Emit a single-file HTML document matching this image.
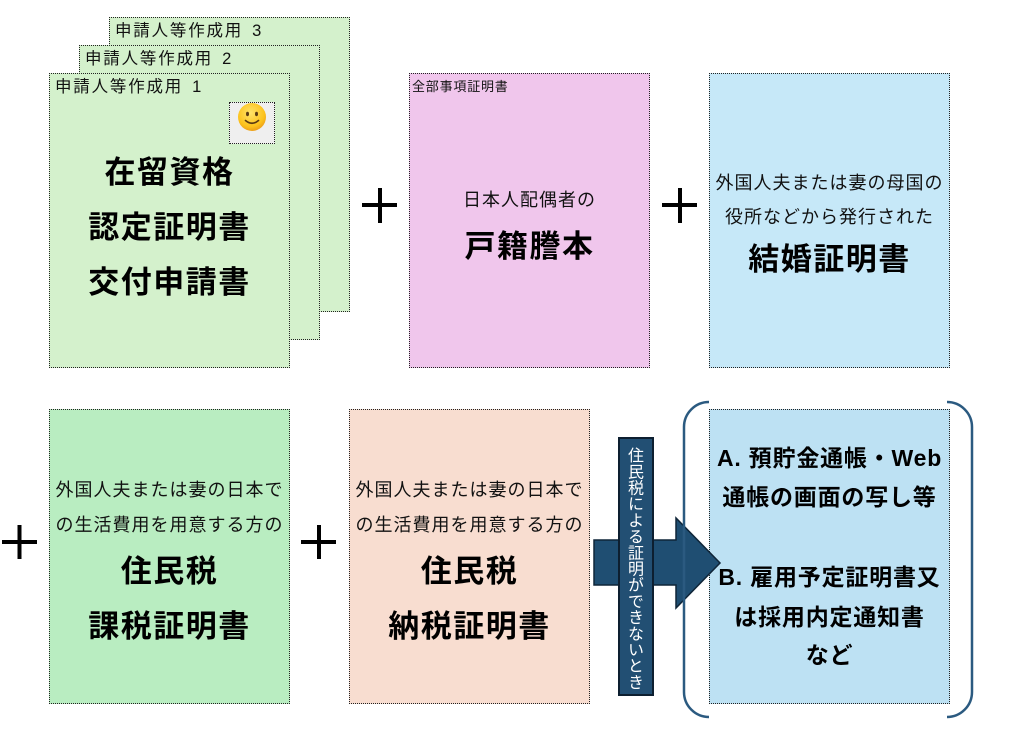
<!DOCTYPE html>
<html><head><meta charset="utf-8">
<style>
html,body{margin:0;padding:0;background:#fff;}
body{width:1024px;height:735px;position:relative;overflow:hidden;font-family:"Liberation Sans","Noto Sans CJK JP",sans-serif;color:#000;}
.box{position:absolute;box-sizing:border-box;border:1px dotted #222;}
.t{position:absolute;text-align:center;white-space:nowrap;}
.lbl{position:absolute;white-space:nowrap;font-size:16.5px;letter-spacing:1.8px;line-height:20px;color:#111;}
.lbl span{margin-left:9px;}
.big{font-size:31px;font-weight:bold;letter-spacing:1.5px;line-height:40px;}
.mid{font-size:18px;letter-spacing:1px;line-height:26px;color:#111;}
.rb{font-size:23px;font-weight:bold;letter-spacing:0.8px;line-height:36px;}
</style></head><body>

<!-- stacked application forms -->
<div class="box" style="left:109px;top:17px;width:241px;height:295px;background:#d4f1cc;"></div>
<div class="lbl" style="left:115px;top:21px;">申請人等作成用<span>3</span></div>
<div class="box" style="left:79px;top:45px;width:241px;height:295px;background:#d4f1cc;"></div>
<div class="lbl" style="left:85px;top:49px;">申請人等作成用<span>2</span></div>
<div class="box" style="left:49px;top:73px;width:241px;height:295px;background:#d4f1cc;"></div>
<div class="lbl" style="left:55px;top:77px;">申請人等作成用<span>1</span></div>
<div class="box" style="left:229px;top:102px;width:46px;height:42px;background:#efefef;"></div>
<svg style="position:absolute;left:237px;top:102px;" width="32" height="32" viewBox="0 0 32 32">
<defs><radialGradient id="sg" cx="0.45" cy="0.35" r="0.7"><stop offset="0" stop-color="#ffe36a"/><stop offset="0.7" stop-color="#fcc21b"/><stop offset="1" stop-color="#e8951a"/></radialGradient></defs>
<circle cx="15" cy="15" r="14" fill="url(#sg)"/>
<ellipse cx="10.5" cy="12" rx="1.5" ry="2.2" fill="#5a3a12"/>
<ellipse cx="19.5" cy="12" rx="1.5" ry="2.2" fill="#5a3a12"/>
<path d="M8.5 18.5 Q15 24 21.5 18.5" stroke="#5a3a12" stroke-width="1.6" fill="none" stroke-linecap="round"/>
</svg>
<div class="t big" style="left:49px;width:241px;top:153px;">在留資格</div>
<div class="t big" style="left:49px;width:241px;top:208px;">認定証明書</div>
<div class="t big" style="left:49px;width:241px;top:263px;">交付申請書</div>

<!-- purple -->
<div class="box" style="left:409px;top:73px;width:241px;height:295px;background:#f0c6ec;"></div>
<div class="t" style="left:412px;top:78px;font-size:13px;letter-spacing:0.8px;line-height:18px;color:#111;text-align:left;">全部事項証明書</div>
<div class="t mid" style="left:409px;width:241px;top:187px;">日本人配偶者の</div>
<div class="t big" style="left:409px;width:241px;top:227px;">戸籍謄本</div>

<!-- top blue -->
<div class="box" style="left:709px;top:73px;width:241px;height:295px;background:#c6e8f8;"></div>
<div class="t mid" style="left:709px;width:241px;top:170px;">外国人夫または妻の母国の</div>
<div class="t mid" style="left:709px;width:241px;top:204px;">役所などから発行された</div>
<div class="t big" style="left:709px;width:241px;top:240px;">結婚証明書</div>

<!-- bottom green -->
<div class="box" style="left:49px;top:409px;width:241px;height:295px;background:#b9edc1;"></div>
<div class="t mid" style="left:49px;width:241px;top:477px;">外国人夫または妻の日本で</div>
<div class="t mid" style="left:49px;width:241px;top:512px;">の生活費用を用意する方の</div>
<div class="t big" style="left:49px;width:241px;top:552px;">住民税</div>
<div class="t big" style="left:49px;width:241px;top:607px;">課税証明書</div>

<!-- peach -->
<div class="box" style="left:349px;top:409px;width:241px;height:295px;background:#f8ddd0;"></div>
<div class="t mid" style="left:349px;width:241px;top:477px;">外国人夫または妻の日本で</div>
<div class="t mid" style="left:349px;width:241px;top:512px;">の生活費用を用意する方の</div>
<div class="t big" style="left:349px;width:241px;top:552px;">住民税</div>
<div class="t big" style="left:349px;width:241px;top:607px;">納税証明書</div>

<!-- right blue -->
<div class="box" style="left:709px;top:409px;width:241px;height:295px;background:#bde1f3;"></div>
<div class="t rb" style="left:709px;width:241px;top:440px;">A. 預貯金通帳・Web</div>
<div class="t rb" style="left:709px;width:241px;top:479px;">通帳の画面の写し等</div>
<div class="t rb" style="left:709px;width:241px;top:559px;">B. 雇用予定証明書又</div>
<div class="t rb" style="left:709px;width:241px;top:599px;">は採用内定通知書</div>
<div class="t rb" style="left:709px;width:241px;top:637px;">など</div>

<!-- svg overlays: plus signs, arrow, bracket -->
<svg style="position:absolute;left:0;top:0;" width="1024" height="735">
<g stroke="#000" stroke-width="4">
<line x1="362" y1="205" x2="397" y2="205"/><line x1="380" y1="188" x2="380" y2="223"/>
<line x1="662" y1="205" x2="697" y2="205"/><line x1="680" y1="188" x2="680" y2="223"/>
<line x1="2" y1="542" x2="37" y2="542"/><line x1="19.5" y1="525" x2="19.5" y2="559"/>
<line x1="301" y1="542" x2="336" y2="542"/><line x1="319" y1="525" x2="319" y2="559"/>
</g>
<polygon points="594,540 676,540 676,518 720,563 676,608 676,585 594,585" fill="#1f4e72" stroke="#0f2538" stroke-width="1.5"/>
<rect x="619" y="438" width="34" height="257" fill="#224f73" stroke="#0d1f30" stroke-width="2"/>
<g fill="none" stroke="#2b5a80" stroke-width="2.5">
<path d="M709 402 A25 25 0 0 0 684 427 L684 692 A25 25 0 0 0 709 717"/>
<path d="M947 402 A25 25 0 0 1 972 427 L972 692 A25 25 0 0 1 947 717"/>
</g>
</svg>
<div style="position:absolute;left:619px;top:440px;width:34px;height:257px;display:flex;align-items:center;justify-content:center;">
<div style="writing-mode:vertical-rl;color:#fff;font-size:16px;letter-spacing:0.2px;line-height:34px;font-family:'Noto Sans CJK JP',sans-serif;">住民税による証明ができないとき</div>
</div>
</body></html>
